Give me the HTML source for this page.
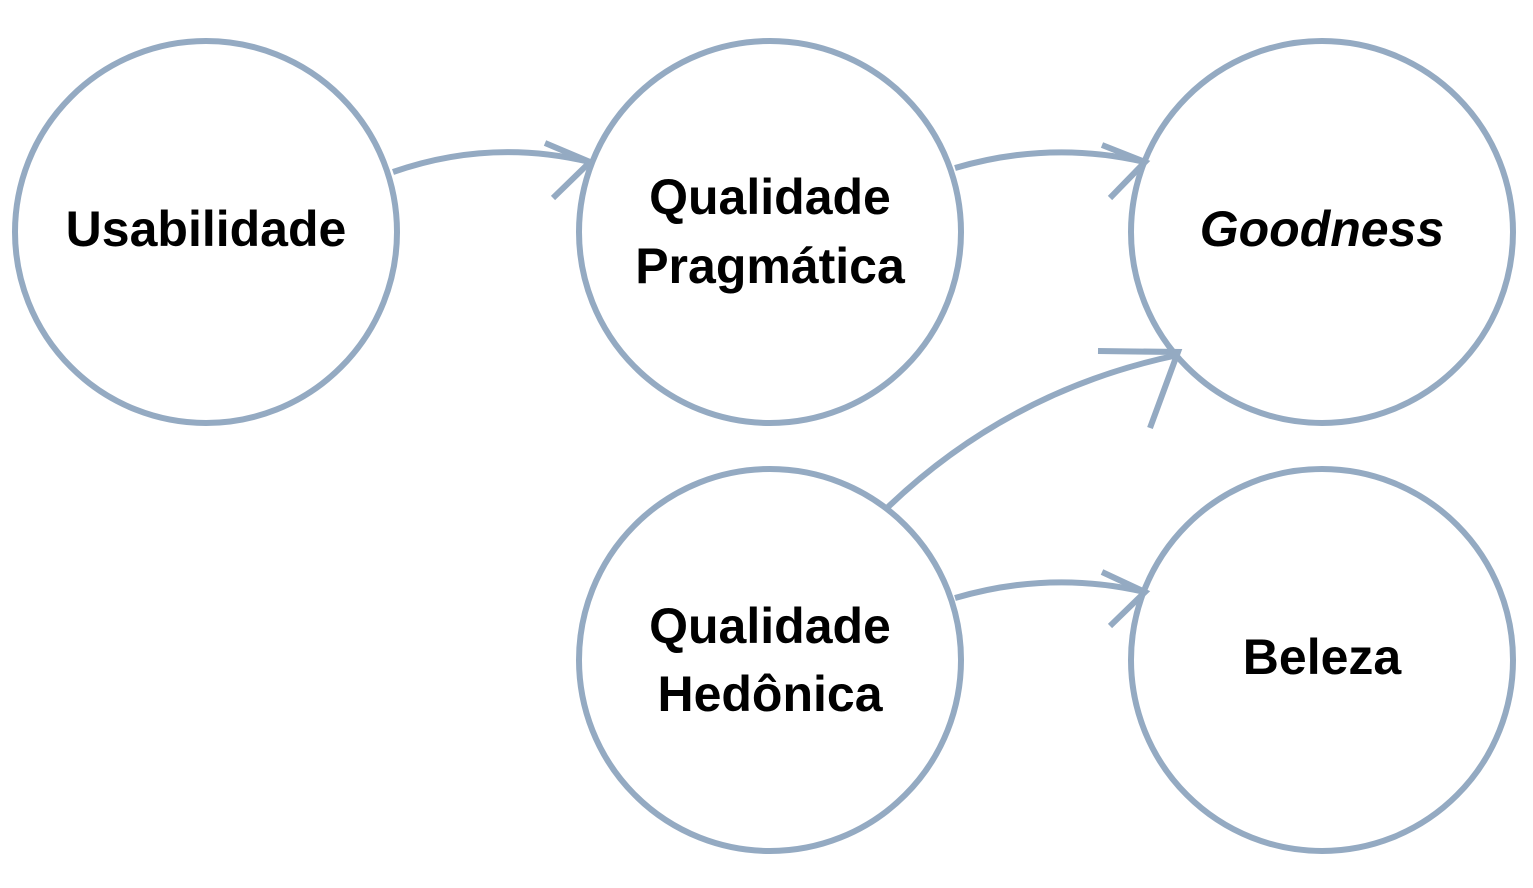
<!DOCTYPE html>
<html><head><meta charset="utf-8"><style>
html,body{margin:0;padding:0;background:#fff;}
svg{display:block;}
text{font-family:"Liberation Sans",sans-serif;font-weight:bold;font-size:50px;fill:#000;text-anchor:middle;}
</style></head><body>
<svg width="1533" height="888" viewBox="0 0 1533 888">
<g fill="none" stroke="#94aac2" stroke-width="6">
<circle cx="206" cy="232" r="191"/>
<circle cx="770" cy="232" r="191"/>
<circle cx="1322" cy="232" r="191"/>
<circle cx="770" cy="660" r="191"/>
<circle cx="1322" cy="660" r="191"/>
<path d="M393,172 Q490,138 590,162"/>
<path d="M545,143 L590,162 L553,198"/>
<path d="M955,168 Q1050,140 1145,162"/>
<path d="M1102,145 L1145,162 L1110,198"/>
<path d="M887,508 Q1010,390 1178,355"/>
<path d="M1098,351 L1178,352 L1150,428"/>
<path d="M955,598 Q1050,570 1145,592"/>
<path d="M1102,572 L1145,592 L1110,626"/>
</g>
<text x="206" y="246">Usabilidade</text>
<text x="770" y="214">Qualidade</text>
<text x="770" y="283">Pragmática</text>
<text x="1322" y="246" font-style="italic">Goodness</text>
<text x="770" y="643">Qualidade</text>
<text x="770" y="711">Hedônica</text>
<text x="1322" y="674">Beleza</text>
</svg>
</body></html>
